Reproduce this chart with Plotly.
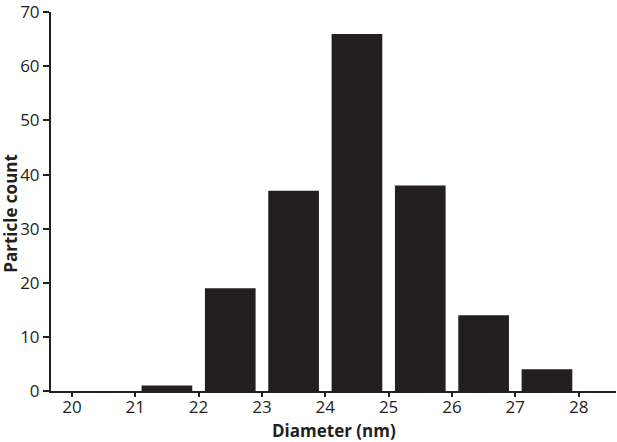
import plotly.graph_objects as go

bin_centers = [21.5, 22.5, 23.5, 24.5, 25.5, 26.5, 27.5]
counts = [1, 19, 37, 66, 38, 14, 4]
x_ticks = [20, 21, 22, 23, 24, 25, 26, 27, 28]
y_ticks = [0, 10, 20, 30, 40, 50, 60, 70]

ink = "#231f20"
font_family = "Open Sans, Lato, sans-serif"

fig = go.Figure()
fig.add_trace(go.Bar(
    x=bin_centers, y=counts, width=0.8,
    marker=dict(color=ink, line=dict(width=0)),
))

fig.update_layout(
    width=617, height=442,
    margin=dict(l=51, r=1, t=12, b=51),
    plot_bgcolor="white", paper_bgcolor="white",
    showlegend=False,
    font=dict(family=font_family, size=17, color=ink),
    xaxis=dict(
        range=[19.67, 28.59], tickvals=x_ticks, ticktext=[str(v) for v in x_ticks],
        showgrid=False, zeroline=False, showline=True, linecolor=ink, linewidth=2,
        ticks="outside", ticklen=4, tickwidth=2, tickcolor=ink,
        tickfont=dict(size=17), ticklabelstandoff=-4,
        automargin=False,
    ),
    yaxis=dict(
        range=[0, 70.05], tickvals=y_ticks, ticktext=[str(v) for v in y_ticks],
        showgrid=False, zeroline=False, showline=True, linecolor=ink, linewidth=2,
        ticks="outside", ticklen=6, tickwidth=2, tickcolor=ink,
        tickfont=dict(size=17), automargin=False,
    ),
)

fig.add_annotation(
    text="<b>Diameter (nm)</b>",
    xref="paper", yref="paper", x=0.5, y=-0.104,
    xanchor="center", yanchor="middle", showarrow=False,
    font=dict(size=17, color=ink, family=font_family),
)
fig.add_annotation(
    text="<b>Particle count</b>", textangle=-90,
    xref="paper", yref="paper", x=-0.071, y=0.47,
    xanchor="center", yanchor="middle", showarrow=False,
    font=dict(size=17, color=ink, family=font_family),
)

fig.write_html("out.html", config={"displayModeBar": False},
               post_script="document.body.style.margin='0';")
